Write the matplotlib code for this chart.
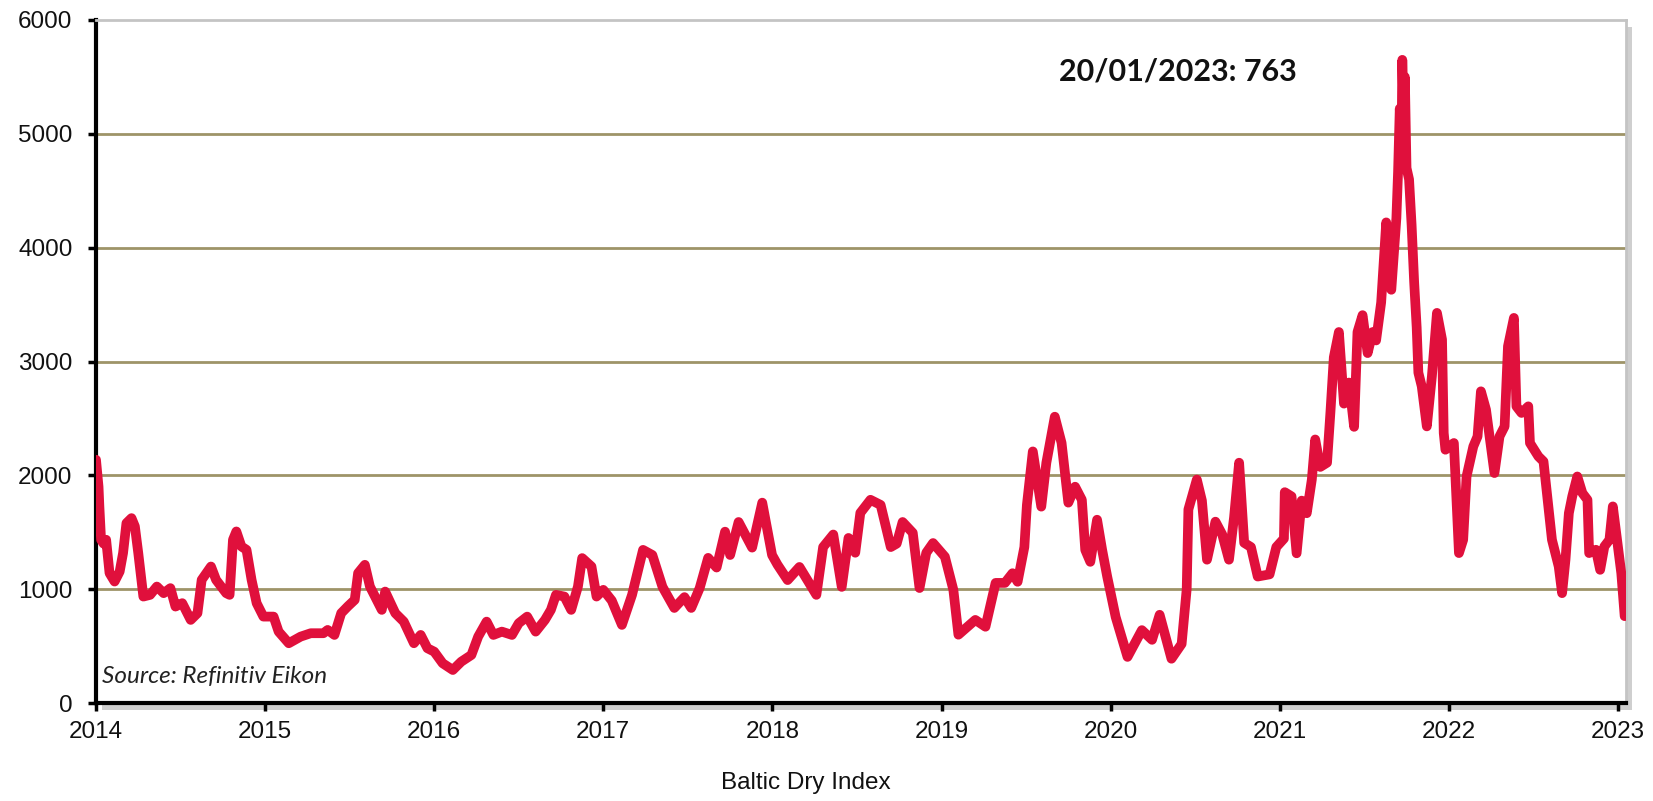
import matplotlib
matplotlib.use("Agg")
import matplotlib.pyplot as plt
from matplotlib.patches import Rectangle

# ---- data (decimal year, Baltic Dry Index) ----
years = [
    2014.00, 2014.015, 2014.02, 2014.03, 2014.045, 2014.06, 2014.08, 2014.11, 2014.14, 2014.16,
    2014.18, 2014.21, 2014.23, 2014.25, 2014.28, 2014.32, 2014.36, 2014.40, 2014.44, 2014.47,
    2014.51, 2014.56, 2014.60, 2014.625, 2014.68, 2014.71, 2014.77, 2014.79, 2014.81, 2014.83,
    2014.86, 2014.89, 2014.92, 2014.95, 2014.99,
    2015.05, 2015.08, 2015.14, 2015.21, 2015.27, 2015.345, 2015.37, 2015.41, 2015.45, 2015.49,
    2015.53, 2015.55, 2015.59, 2015.62, 2015.66, 2015.69, 2015.71, 2015.77, 2015.82, 2015.88,
    2015.92, 2015.96,
    2016.00, 2016.05, 2016.11, 2016.16, 2016.22, 2016.26, 2016.31, 2016.35, 2016.40, 2016.46,
    2016.50, 2016.55, 2016.60, 2016.655, 2016.69, 2016.72, 2016.77, 2016.81, 2016.85, 2016.875,
    2016.93, 2016.96, 2017.00,
    2017.05, 2017.11, 2017.17, 2017.235, 2017.29, 2017.35, 2017.42, 2017.48, 2017.52, 2017.57,
    2017.62, 2017.67, 2017.72, 2017.75, 2017.80, 2017.88, 2017.94, 2017.998,
    2018.03, 2018.09, 2018.16, 2018.26, 2018.30, 2018.36, 2018.41, 2018.45, 2018.49, 2018.52,
    2018.58, 2018.64, 2018.70, 2018.735, 2018.77, 2018.83, 2018.87, 2018.91, 2018.95,
    2019.02, 2019.07, 2019.10, 2019.20, 2019.26, 2019.32, 2019.375, 2019.42, 2019.45, 2019.49,
    2019.505, 2019.54, 2019.59, 2019.62, 2019.67, 2019.71, 2019.75, 2019.79, 2019.83, 2019.85,
    2019.88, 2019.92, 2019.95, 2019.98,
    2020.03, 2020.10, 2020.185, 2020.245, 2020.29, 2020.36, 2020.42, 2020.45, 2020.46, 2020.51,
    2020.54, 2020.57, 2020.62, 2020.66, 2020.70, 2020.73, 2020.76, 2020.79, 2020.83, 2020.87,
    2020.94, 2020.98,
    2021.025, 2021.03, 2021.07, 2021.10, 2021.13, 2021.16, 2021.19, 2021.21, 2021.24, 2021.28,
    2021.30, 2021.32, 2021.35, 2021.38, 2021.41, 2021.44, 2021.46, 2021.49, 2021.52, 2021.55,
    2021.57, 2021.60, 2021.63, 2021.66, 2021.69, 2021.70, 2021.71, 2021.72, 2021.725, 2021.735,
    2021.74, 2021.75, 2021.765, 2021.78, 2021.795, 2021.81, 2021.82, 2021.84, 2021.87, 2021.90,
    2021.93, 2021.96, 2021.97, 2021.98,
    2022.03, 2022.06, 2022.085, 2022.105, 2022.145, 2022.17, 2022.19, 2022.22, 2022.27, 2022.30,
    2022.33, 2022.35, 2022.385, 2022.40, 2022.43, 2022.47, 2022.48, 2022.53, 2022.56, 2022.58,
    2022.61, 2022.65, 2022.67, 2022.69, 2022.71, 2022.73, 2022.76, 2022.79, 2022.82, 2022.83,
    2022.87, 2022.895, 2022.92, 2022.95, 2022.97, 2023.00, 2023.02, 2023.04,
]
bdi = [
    2137, 1900, 1726, 1434, 1400, 1434, 1141, 1067, 1155, 1317,
    1580, 1624, 1551, 1317, 935, 950, 1023, 965, 1009, 847,
    877, 730, 789, 1082, 1199, 1082, 965, 950, 1434, 1507,
    1375, 1346, 1082, 877, 759,
    759, 627, 525, 583, 613, 613, 642, 598, 789, 850,
    906, 1141, 1214, 1023, 906, 818, 979, 789, 715, 525,
    598, 481,
    451, 349, 290, 363, 422, 583, 715, 598, 627, 598,
    701, 759, 627, 730, 818, 950, 935, 818, 1023, 1273,
    1199, 935, 994,
    900, 686, 950, 1345, 1300, 1020, 835, 930, 835, 1010,
    1275, 1190, 1505, 1300, 1590, 1365, 1760, 1300,
    1215, 1080, 1195, 950, 1370, 1480, 1020, 1450, 1320, 1670,
    1785, 1740, 1370, 1400, 1590, 1495, 1010, 1320, 1405,
    1285, 995, 600, 730, 670, 1055, 1055, 1140, 1065, 1370,
    1740, 2210, 1725, 2110, 2515, 2285, 1760, 1900, 1785, 1345,
    1240, 1610, 1345, 1110,
    755, 405, 640, 555, 775, 389, 519, 1000, 1700, 1963,
    1778, 1259, 1593, 1481, 1259, 1630, 2111, 1407, 1370, 1111,
    1130, 1370,
    1444, 1852, 1815, 1315, 1778, 1667, 1963, 2315, 2074, 2111,
    2555, 3037, 3259, 2630, 2815, 2426, 3259, 3407, 3074, 3259,
    3185, 3519, 4222, 3630, 4259, 4667, 5222, 4800, 5650, 5000,
    5500, 4700, 4600, 4200, 3700, 3300, 2902, 2782, 2430, 2870,
    3427, 3193, 2372, 2225,
    2284, 1317, 1434, 1990, 2254, 2342, 2738, 2577, 2020, 2342,
    2430, 3134, 3383, 2606, 2548, 2606, 2284, 2166, 2122, 1844,
    1434, 1199, 965, 1258, 1668, 1815, 1990, 1844, 1785, 1317,
    1346, 1170, 1375, 1434, 1727, 1375, 1141, 763,
]
year_ticks = list(range(2014, 2024))
y_ticks = [0, 1000, 2000, 3000, 4000, 5000, 6000]
annotation = "20/01/2023: 763"
source_text = "Source: Refinitiv Eikon"
x_title = "Baltic Dry Index"

W, H = 1653, 801
fig = plt.figure(figsize=(W / 100, H / 100), dpi=100)
fig.patch.set_facecolor("white")

L, R, T, B = 96, 1626, 20, 703
ax = fig.add_axes([L / W, 1 - B / H, (R - L) / W, (B - T) / H])
ax.set_facecolor("white")

# drop shadow behind plot area
shadow = Rectangle(((L + 6) / W, 1 - (B + 7) / H), (R - L) / W, (B - T) / H,
                   transform=fig.transFigure, facecolor="#cfcfcf", edgecolor="none",
                   zorder=-5)
fig.patches.append(shadow)

ax.set_xlim(2014, 2014 + (R - L) / 169.1)
ax.set_ylim(0, 6000)

for v in y_ticks[1:-1]:
    ax.axhline(v, color="#9e9468", lw=2.0, zorder=1)

ax.plot(years, bdi, color="#E0103C", lw=7.0, solid_joinstyle="round",
        solid_capstyle="round", zorder=3)

ax.set_xticks(year_ticks)
ax.set_xticklabels([str(y) for y in year_ticks])
ax.set_yticks(y_ticks)
ax.set_yticklabels([str(v) for v in y_ticks])

for s in ["left", "bottom"]:
    ax.spines[s].set_color("black")
    ax.spines[s].set_linewidth(3.0)
for s in ["top", "right"]:
    ax.spines[s].set_color("#c4c4c4")
    ax.spines[s].set_linewidth(2.0)

ax.tick_params(axis="both", direction="out", length=6, width=2.5, color="black",
               labelsize=17.5, labelcolor="#111111")
ax.tick_params(axis="y", pad=11)
ax.tick_params(axis="x", pad=7)
for lab in ax.get_xticklabels() + ax.get_yticklabels():
    lab.set_fontfamily("Liberation Sans")

ax.text(1178 / W, 1 - 72 / H, annotation, transform=fig.transFigure,
        ha="center", va="center", fontsize=22, fontweight="bold",
        family="Lato", color="#111111")
ax.text(102 / W, 1 - 676 / H, source_text, transform=fig.transFigure,
        ha="left", va="center", fontsize=17.5, style="italic",
        family="Lato", color="#222222")
fig.text(806 / W, 1 - 783 / H, x_title, ha="center", va="center",
         fontsize=17.5, family="Liberation Sans", color="#111111")

fig.savefig("out.png", dpi=100, facecolor="white")
